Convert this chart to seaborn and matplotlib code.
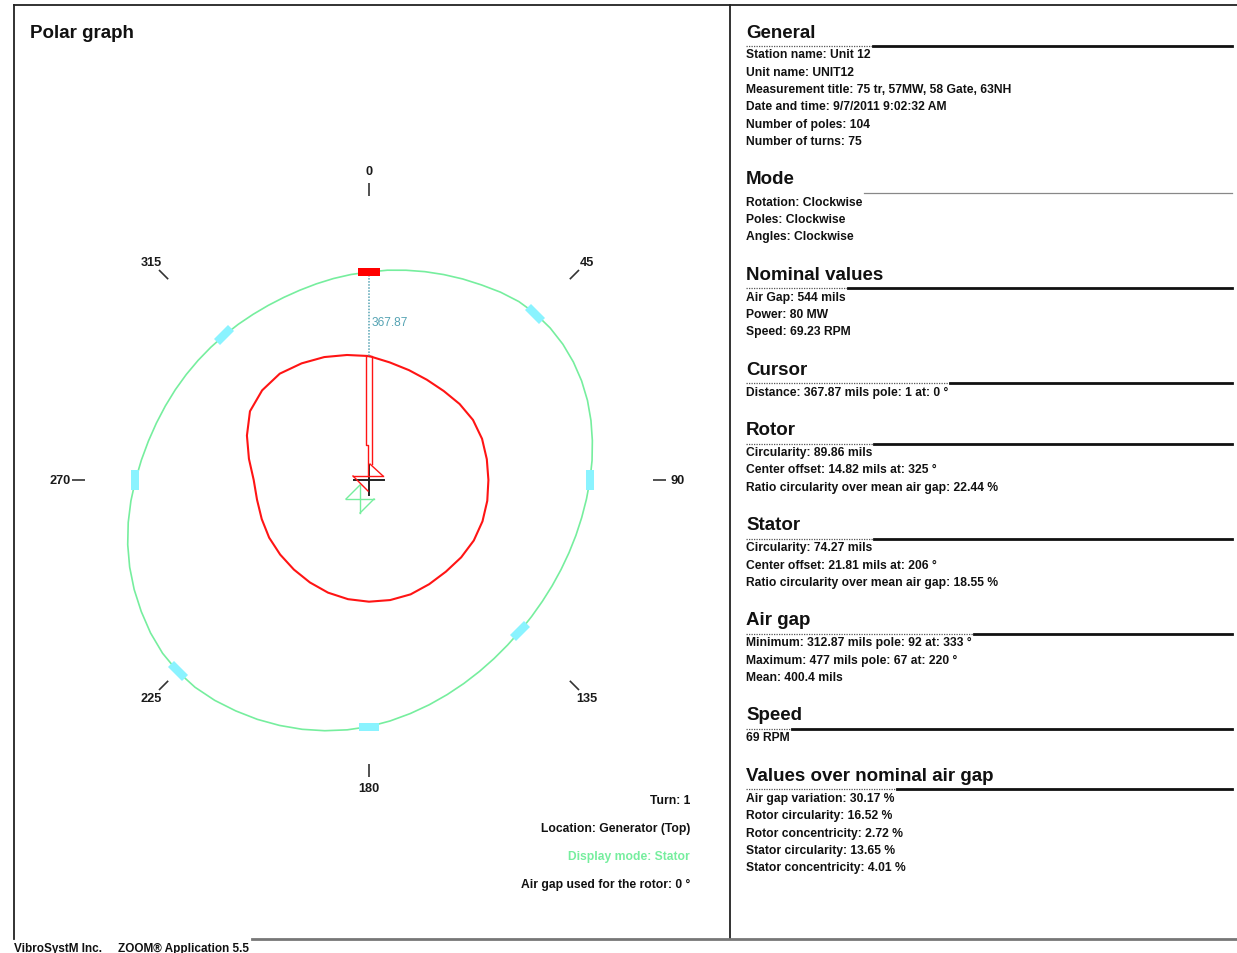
import numpy as np
import matplotlib
matplotlib.use("Agg")
import matplotlib.pyplot as plt
from matplotlib.lines import Line2D
from matplotlib.markers import MarkerStyle
from matplotlib.transforms import Affine2D
import pandas as pd
import seaborn as sns

# ---------------------------------------------------------------- data
rotor_angles = list(range(0, 360, 10))            # degrees, clockwise from top
rotor_radius = [543, 523, 512, 507, 509, 518, 526, 527, 524, 523,
                526, 529, 530, 527, 524, 527, 533, 534, 533, 530,
                525, 518, 512, 508, 505, 500, 498, 505, 534, 569,
                602, 611, 608, 590, 573, 556]

stator_angles = list(range(0, 360, 5))
stator_radius = [910.87, 922.4, 932.9, 944.8, 957.5, 971.5, 986.4, 1004.3,
                 1020.5, 1030.6, 1035.9, 1036.7, 1033.7, 1027.5, 1018.4, 1006.5,
                 993.4, 980.7, 968.0, 956.2, 946.1, 938.2, 932.1, 928.1,
                 926.4, 926.8, 929.9, 935.6, 943.9, 954.8, 968.0, 983.3,
                 1000.4, 1019.2, 1038.9, 1059.5, 1080.1, 1098.5, 1115.1, 1130.5,
                 1144.1, 1156.8, 1167.7, 1178.2, 1185.2, 1185.7, 1180.4, 1168.1,
                 1151.9, 1134.9, 1115.6, 1094.1, 1070.9, 1046.8, 1022.7, 1000.8,
                 981.1, 964.0, 949.1, 936.0, 924.2, 913.7, 904.5, 896.6,
                 890.5, 885.6, 883.0, 882.6, 884.8, 889.6, 896.1, 903.6]

probe_angles = [45, 90, 135, 180, 225, 270, 315]
probe_radius = [1031, 968, 936, 1080, 1186, 1023, 897]

cursor_angle = 0
cursor_distance = 367.87

scale_angles = [0, 45, 90, 135, 180, 225, 270, 315]

panel_title = "Polar graph"
panel_notes = ["Turn: 1", "Location: Generator (Top)",
               "Display mode: Stator", "Air gap used for the rotor: 0 °"]

general_lines = ["Station name: Unit 12", "Unit name: UNIT12",
                 "Measurement title: 75 tr, 57MW, 58 Gate, 63NH",
                 "Date and time: 9/7/2011 9:02:32 AM",
                 "Number of poles: 104", "Number of turns: 75"]
mode_lines = ["Rotation: Clockwise", "Poles: Clockwise", "Angles: Clockwise"]
nominal_lines = ["Air Gap: 544 mils", "Power: 80 MW", "Speed: 69.23 RPM"]
cursor_lines = ["Distance: 367.87 mils pole: 1 at: 0 °"]
rotor_lines = ["Circularity: 89.86 mils", "Center offset: 14.82 mils at: 325 °",
               "Ratio circularity over mean air gap: 22.44 %"]
stator_lines = ["Circularity: 74.27 mils", "Center offset: 21.81 mils at: 206 °",
                "Ratio circularity over mean air gap: 18.55 %"]
airgap_lines = ["Minimum: 312.87 mils pole: 92 at: 333 °",
                "Maximum: 477 mils pole: 67 at: 220 °", "Mean: 400.4 mils"]
speed_lines = ["69 RPM"]
ratio_lines = ["Air gap variation: 30.17 %", "Rotor circularity: 16.52 %",
               "Rotor concentricity: 2.72 %", "Stator circularity: 13.65 %",
               "Stator concentricity: 4.01 %"]

sections = [("General", general_lines), ("Mode", mode_lines),
            ("Nominal values", nominal_lines), ("Cursor", cursor_lines),
            ("Rotor", rotor_lines), ("Stator", stator_lines),
            ("Air gap", airgap_lines), ("Speed", speed_lines),
            ("Values over nominal air gap", ratio_lines)]

footer = ["VibroSystM Inc.", "ZOOM® Application 5.5"]

# ---------------------------------------------------------------- style
plt.rcParams["font.family"] = ["Liberation Sans", "DejaVu Sans"]
STATOR_GREEN = "#76EE9E"
PROBE_CYAN = "#8AF3FF"
ROTOR_RED = "#FF1414"
CURSOR_TEAL = "#55A3B3"
TEXT_DARK = "#111111"
BODY_SIZE = 8.7

W, H = 1237, 954
fig = plt.figure(figsize=(W / 100, H / 100), dpi=100)
fig.patch.set_facecolor("white")


def fx(px):
    return px / W


def fy(py):
    return 1 - py / H


def fig_line(x0, y0, x1, y1, **kw):
    fig.add_artist(Line2D([fx(x0), fx(x1)], [fy(y0), fy(y1)],
                          transform=fig.transFigure, **kw))


# ---------------------------------------------------------------- polar graph
UNITS_PER_PX = 4.38
R_MAX = 1400
cx, cy = 369, 481
rad_px = R_MAX / UNITS_PER_PX
ax = fig.add_axes([fx(cx - rad_px), fy(cy + rad_px), 2 * rad_px / W, 2 * rad_px / H],
                  projection="polar")
ax.set_theta_zero_location("N")
ax.set_theta_direction(-1)


def closed_frame(angles, radii, name):
    return pd.DataFrame({"theta": np.deg2rad(angles + [360]),
                         "radius": radii + [radii[0]],
                         "trace": name})


df = pd.concat([closed_frame(stator_angles, stator_radius, "Stator"),
                closed_frame(rotor_angles, rotor_radius, "Rotor")],
               ignore_index=True)
sns.lineplot(data=df[df.trace == "Stator"], x="theta", y="radius", sort=False,
             estimator=None, color=STATOR_GREEN, linewidth=1.2, ax=ax)
sns.lineplot(data=df[df.trace == "Rotor"], x="theta", y="radius", sort=False,
             estimator=None, color=ROTOR_RED, linewidth=1.5, ax=ax)

# stator probe markers, drawn tangent to the stator contour
for ang, r in zip(probe_angles, probe_radius):
    ms = MarkerStyle("s", transform=Affine2D().scale(2.5, 1).rotate_deg(-ang))
    ax.plot([np.deg2rad(ang)], [r], marker=ms, markersize=5.8,
            color=PROBE_CYAN, markeredgewidth=0, linestyle="none")

# cursor: marker on stator, dotted gap line and its value
rotor_at_cursor = rotor_radius[rotor_angles.index(cursor_angle)]
stator_at_cursor = rotor_at_cursor + cursor_distance
ax.plot([np.deg2rad(cursor_angle)] * 2, [rotor_at_cursor, stator_at_cursor],
        color=CURSOR_TEAL, linewidth=1.1, linestyle=(0, (1, 1)))
ms = MarkerStyle("s", transform=Affine2D().scale(2.5, 1).rotate_deg(-cursor_angle))
ax.plot([np.deg2rad(cursor_angle)], [stator_at_cursor], marker=ms, markersize=6.3,
        color="#FF0000", markeredgewidth=0, linestyle="none")
ax.annotate(f"{cursor_distance:.2f}",
            xy=(np.deg2rad(cursor_angle), rotor_at_cursor + 0.41 * cursor_distance),
            xytext=(1.5, 0), textcoords="offset points", ha="left", va="center",
            color=CURSOR_TEAL, fontsize=8.6)

# angle scale ticks and labels
for ang in scale_angles:
    t = np.deg2rad(ang)
    ax.plot([t, t], [284 * UNITS_PER_PX, 297 * UNITS_PER_PX], color="#333333",
            linewidth=1.2, solid_capstyle="butt")
    ax.text(t, 308.5 * UNITS_PER_PX, str(ang), ha="center", va="center",
            fontsize=9.2, fontweight="bold", color="#1a1a1a")


def glyph(points, **kw):
    """Polyline given as pixel offsets (x right, y up) from the graph centre."""
    xs = np.array([p[0] for p in points]) * UNITS_PER_PX
    ys = np.array([p[1] for p in points]) * UNITS_PER_PX
    ax.plot(np.arctan2(xs, ys), np.hypot(xs, ys), **kw)


# centre cross
glyph([(-15, 0), (15, 0)], color="#222222", linewidth=1.4)
glyph([(0, -15), (0, 15)], color="#222222", linewidth=1.4)

# stator centre symbol
gx, gy, s = -9, -19, 14
for pts in ([(gx - s, gy), (gx + s, gy)], [(gx, gy - s), (gx, gy + s)],
            [(gx - s, gy), (gx, gy + s)], [(gx + s, gy), (gx, gy - s)]):
    glyph(pts, color=STATOR_GREEN, linewidth=1.0)

# rotor centre symbol and cursor needle
rx, ry, s = -1, 4, 15
for pts in ([(rx - s, ry), (rx + s, ry)], [(rx - s, ry), (rx, ry - s)],
            [(rx + s, ry), (rx + 2, ry + 12)]):
    glyph(pts, color=ROTOR_RED, linewidth=1.0)
top = rotor_at_cursor / UNITS_PER_PX
glyph([(-1, ry), (-1, 35), (-2.5, 35), (-2.5, top), (3, top), (3, ry + 12)],
      color=ROTOR_RED, linewidth=1.0)

ax.set_ylim(0, R_MAX)
ax.grid(False)
ax.set_xticks([])
ax.set_yticks([])
ax.set_xlabel("")
ax.set_ylabel("")
ax.spines["polar"].set_visible(False)
ax.patch.set_alpha(0)

# ---------------------------------------------------------------- left panel text
fig.text(fx(30), fy(33), panel_title, fontsize=13.5, fontweight="bold",
         ha="left", va="center", color=TEXT_DARK)
note_y = [801, 829, 857, 885]
for txt, y in zip(panel_notes, note_y):
    col = STATOR_GREEN if txt.startswith("Display") else TEXT_DARK
    fig.text(fx(690), fy(y), txt, fontsize=BODY_SIZE, fontweight="bold", ha="right",
             va="center", color=col)

# ---------------------------------------------------------------- frame
frame_kw = dict(color="#222222", linewidth=1.3)
fig_line(14, 6, 1237, 6, **frame_kw)
fig_line(14, 6, 14, 940, **frame_kw)
fig_line(730, 6, 730, 940, **frame_kw)
fig_line(252, 940, 1237, 940, color="#777777", linewidth=2.0)
fig.text(fx(14), fy(949), footer[0], fontsize=8.5, fontweight="bold",
         ha="left", va="center", color=TEXT_DARK)
fig.text(fx(118), fy(949), footer[1], fontsize=8.5, fontweight="bold",
         ha="left", va="center", color=TEXT_DARK)

# ---------------------------------------------------------------- right panel
X0, X1 = 746, 1232
LINE_STEP = 17.3
first_lines = []
y = 33
for head, lines in sections:
    fig.text(fx(X0), fy(y), head, fontsize=13.5, fontweight="bold",
             ha="left", va="center", color=TEXT_DARK)
    rule_y = y + 14
    ly = y + 22.5
    texts = []
    for line in lines:
        texts.append(fig.text(fx(X0), fy(ly), line, fontsize=BODY_SIZE,
                              fontweight="bold", ha="left", va="center",
                              color=TEXT_DARK))
        ly += LINE_STEP
    first_lines.append((texts[0], rule_y, head))
    y = ly - LINE_STEP + 38

fig.canvas.draw()
renderer = fig.canvas.get_renderer()
for t, rule_y, head in first_lines:
    x_end = t.get_window_extent(renderer).x1 + 2
    if head == "Mode":
        fig_line(x_end, rule_y, X1, rule_y, color="#888888", linewidth=0.9)
    else:
        fig_line(X0, rule_y, x_end, rule_y, color="#555555", linewidth=0.9,
                 linestyle=(0, (1, 1)))
        fig_line(x_end, rule_y, X1, rule_y, color=TEXT_DARK, linewidth=2.0)

fig.savefig("out.png", dpi=100, facecolor="white")
